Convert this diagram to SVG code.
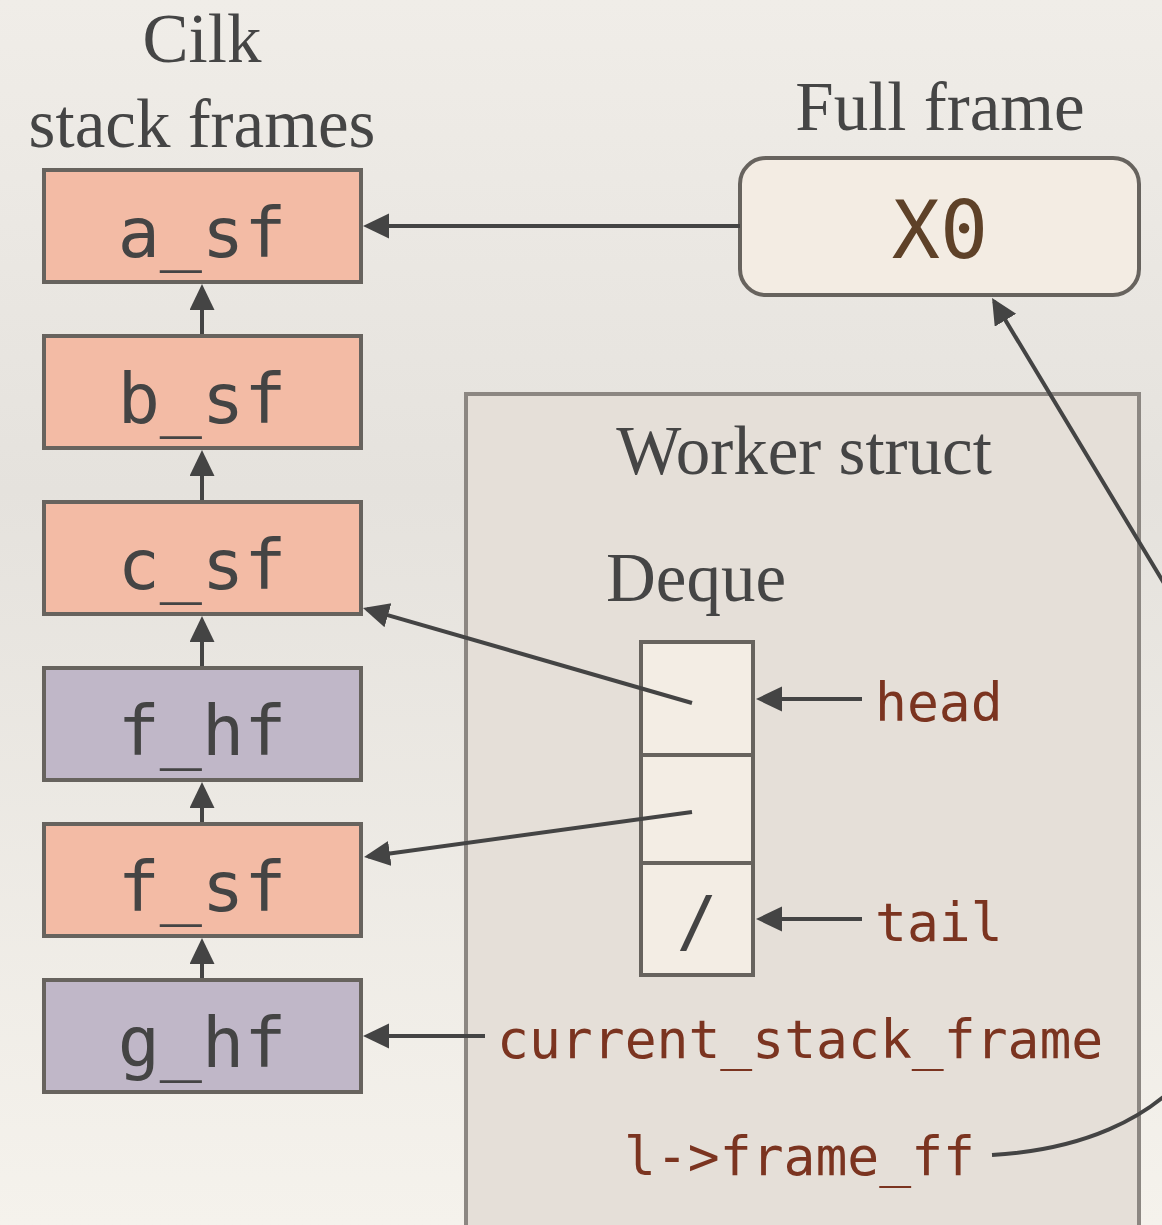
<svg xmlns="http://www.w3.org/2000/svg" width="1162" height="1225" viewBox="0 0 1162 1225">
  <style>
    .serif { font-family: "Liberation Serif", "Times New Roman", serif; font-size: 69px; fill: #454545; text-anchor: middle; }
    .frame rect { stroke: #67635e; stroke-width: 4; }
    .sf rect { fill: #f3bba5; }
    .hf rect { fill: #c0b7c8; }
    .frame text { font-family: "DejaVu Sans Mono", "Liberation Mono", monospace; font-size: 70px; fill: #444444; text-anchor: middle; }
    .code { font-family: "DejaVu Sans Mono", "Liberation Mono", monospace; font-size: 53px; fill: #7b3420; }
    .cell { fill: #f3ede4; stroke: #67635e; stroke-width: 4; }
    .edge { fill: none; stroke: #444444; stroke-width: 4; marker-end: url(#arrow); }
  </style>
  <defs>
    <linearGradient id="paper" x1="0" y1="0" x2="0" y2="1">
      <stop offset="0" stop-color="#f0ede8"/>
      <stop offset="0.4" stop-color="#e5e2dd"/>
      <stop offset="1" stop-color="#f5f2ec"/>
    </linearGradient>
    <marker id="arrow" markerUnits="userSpaceOnUse" markerWidth="26" markerHeight="26" refX="22" refY="12.5" orient="auto">
      <path d="M0,0 L26,12.5 L0,25 Z" fill="#444444"/>
    </marker>
  </defs>

  <rect width="1162" height="1225" fill="url(#paper)"/>

  <!-- headings -->
  <text class="serif" x="202" y="62">Cilk</text>
  <text class="serif" x="202" y="147">stack frames</text>
  <text class="serif" x="940" y="130">Full frame</text>

  <!-- worker struct container -->
  <g id="worker">
    <rect x="466" y="394" width="673" height="880" fill="#e5dfd8" stroke="#8c8782" stroke-width="4"/>
    <text class="serif" x="804" y="474">Worker struct</text>
    <text class="serif" x="696" y="601">Deque</text>
  </g>

  <!-- stack frames -->
  <g id="a_sf" class="frame sf"><rect x="44" y="170" width="317" height="112"/><text x="202" y="257">a_sf</text></g>
  <g id="b_sf" class="frame sf"><rect x="44" y="336" width="317" height="112"/><text x="202" y="423">b_sf</text></g>
  <g id="c_sf" class="frame sf"><rect x="44" y="502" width="317" height="112"/><text x="202" y="589">c_sf</text></g>
  <g id="f_hf" class="frame hf"><rect x="44" y="668" width="317" height="112"/><text x="202" y="755">f_hf</text></g>
  <g id="f_sf" class="frame sf"><rect x="44" y="824" width="317" height="112"/><text x="202" y="911">f_sf</text></g>
  <g id="g_hf" class="frame hf"><rect x="44" y="980" width="317" height="112"/><text x="202" y="1067">g_hf</text></g>

  <!-- full frame -->
  <g id="x0">
    <rect x="740" y="158" width="399" height="137" rx="26" fill="#f3ece3" stroke="#67635e" stroke-width="4"/>
    <text x="940" y="258" font-family="DejaVu Sans Mono, Liberation Mono, monospace" font-size="80" fill="#5e4128" text-anchor="middle">X0</text>
  </g>

  <!-- deque cells -->
  <g id="deque">
    <rect class="cell" x="641" y="642" width="112" height="113"/>
    <rect class="cell" x="641" y="755" width="112" height="108"/>
    <rect class="cell" x="641" y="863" width="112" height="112"/>
    <text x="697" y="945" font-family="DejaVu Sans Mono, Liberation Mono, monospace" font-size="68" fill="#444444" text-anchor="middle">/</text>
  </g>

  <!-- field labels -->
  <g id="labels">
    <text class="code" x="875" y="721">head</text>
    <text class="code" x="875" y="941">tail</text>
    <text class="code" x="497" y="1058">current_stack_frame</text>
    <text class="code" x="624" y="1175">l-&gt;frame_ff</text>
  </g>

  <!-- connectors -->
  <g id="connectors">
    <path class="edge" d="M740,226 L367,226"/>
    <path class="edge" d="M202,334 L202,288"/>
    <path class="edge" d="M202,500 L202,454"/>
    <path class="edge" d="M202,666 L202,620"/>
    <path class="edge" d="M202,822 L202,786"/>
    <path class="edge" d="M202,978 L202,942"/>
    <path class="edge" d="M692,703 L366.8,609.1"/>
    <path class="edge" d="M692,812 L368,856.5"/>
    <path class="edge" d="M862,699 L760,699"/>
    <path class="edge" d="M862,919 L760,919"/>
    <path class="edge" d="M485,1036 L367,1036"/>
    <path class="edge" d="M992,1155 C1080,1150 1150,1120 1190,1070 C1230,1000 1240,720 1200,643 L994.1,301.4"/>
  </g>
</svg>
